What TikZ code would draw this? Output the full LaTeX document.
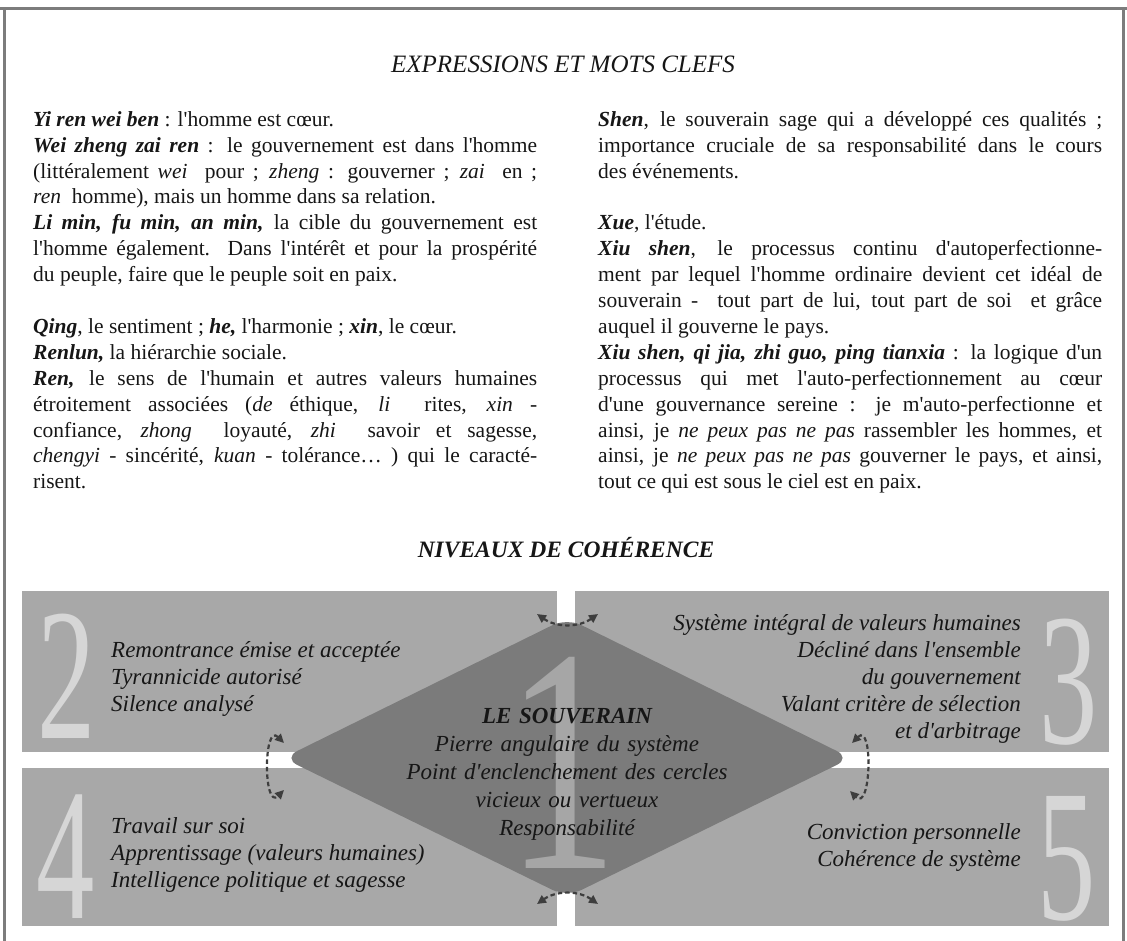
\documentclass[tikz,border=0pt]{standalone}
\usepackage{fontspec}
\setmainfont{Liberation Serif}[Ligatures=TeXOff]
\usepackage{graphicx}
\usetikzlibrary{arrows.meta}

\definecolor{ink}{HTML}{161616}
\definecolor{framegray}{HTML}{7C7C7C}
\definecolor{panelgray}{HTML}{A8A8A8}
\definecolor{diamondgray}{HTML}{7B7B7B}
\definecolor{numgray}{HTML}{D6D6D6}
\definecolor{onegray}{HTML}{A6A6A6}
\definecolor{arrowgray}{HTML}{3E3E3E}

\newcommand\kw[1]{\textbf{\textit{#1}}}
\newcommand\justset{\tolerance=9999 \hyphenpenalty=10000 \relax}

\begin{document}
\begin{tikzpicture}[x=1pt,y=-1pt,
  frameline/.style={draw=framegray, line width=3pt},
  headline/.style={anchor=base, inner sep=0pt, text=ink,
    font=\fontsize{25}{30}\selectfont\itshape},
  bodytext/.style={anchor=north west, inner sep=0pt, text width=504pt,
    align=justify, text=ink, font=\fontsize{21.5}{25.9}\selectfont},
  paneltext/.style={inner sep=0pt, text width=380pt, text=ink,
    font=\fontsize{23}{27}\selectfont\itshape},
  bignum/.style={anchor=base, inner sep=0pt, text=numgray,
    font=\fontsize{188}{188}\selectfont},
  cyc/.style={draw=arrowgray, line width=2.2pt, dash pattern=on 4.5pt off 3pt,
    {Triangle[length=9pt,width=8.5pt]}-{Triangle[length=9pt,width=8.5pt]}}
]
\useasboundingbox (0,0) rectangle (1127,941);

% outer frame
\draw[frameline] (4,941) -- (4,9) -- (1123,9) -- (1123,941);
\draw[frameline] (0,9) -- (1127,9);

% headings
\node[headline] (head1) at (563,73) {EXPRESSIONS ET MOTS CLEFS};
\node[headline, font=\fontsize{23.5}{28}\selectfont\bfseries\itshape] (head2) at (566,557) {NIVEAUX DE COHÉRENCE};

% glossary, left column
\node[bodytext] (colL) at (33,107.9) {\justset\strut\kw{Yi ren wei ben} : l'homme est cœur.\par
\kw{Wei zheng zai ren} : le gouvernement est dans l'homme\linebreak
(littéralement \textit{wei}~ pour ; \textit{zheng} : gouverner ; \textit{zai}~ en ;\linebreak
\textit{ren}~ homme), mais un homme dans sa relation.\par
\kw{Li min, fu min, an min,} la cible du gouvernement est\linebreak
l'homme également. Dans l'intérêt et pour la prospérité\linebreak
du peuple, faire que le peuple soit en paix.\par
\vskip\baselineskip
\kw{Qing}, le sentiment ; \kw{he,} l'harmonie ; \kw{xin}, le cœur.\par
\kw{Renlun,} la hiérarchie sociale.\par
\kw{Ren,} le sens de l'humain et autres valeurs humaines\linebreak
étroitement associées (\textit{de} éthique, \textit{li}~ rites, \textit{xin} -\linebreak
confiance, \textit{zhong}~ loyauté, \textit{zhi}~ savoir et sagesse,\linebreak
\textit{chengyi} - sincérité, \textit{kuan} - tolérance… ) qui le caracté-\linebreak
risent.};

% glossary, right column
\node[bodytext] (colR) at (598,107.9) {\justset\strut\kw{Shen}, le souverain sage qui a développé ces qualités ;\linebreak
importance cruciale de sa responsabilité dans le cours\linebreak
des événements.\par
\vskip\baselineskip
\kw{Xue}, l'étude.\par
\kw{Xiu shen}, le processus continu d'autoperfectionne-\linebreak
ment par lequel l'homme ordinaire devient cet idéal de\linebreak
souverain -~ tout part de lui, tout part de soi~ et grâce\linebreak
auquel il gouverne le pays.\par
\kw{Xiu shen, qi jia, zhi guo, ping tianxia} : la logique d'un\linebreak
processus qui met l'auto-perfectionnement au cœur\linebreak
d'une gouvernance sereine : je m'auto-perfectionne et\linebreak
ainsi, je \textit{ne peux pas ne pas} rassembler les hommes, et\linebreak
ainsi, je \textit{ne peux pas ne pas} gouverner le pays, et ainsi,\linebreak
tout ce qui est sous le ciel est en paix.};

% the four level panels
\fill[panelgray] (22,591) rectangle (557,752);
\fill[panelgray] (575,591) rectangle (1109,752);
\fill[panelgray] (22,768) rectangle (557,926);
\fill[panelgray] (575,768) rectangle (1109,926);

% level numbers
\node[bignum] (num2) at (67,738) {\scalebox{0.62}[1]{2}};
\node[bignum] (num3) at (1069,743) {\scalebox{0.62}[1]{3}};
\node[bignum] (num4) at (66,918) {\scalebox{0.62}[1]{4}};
\node[bignum] (num5) at (1067,919) {\scalebox{0.62}[1]{5}};

% panel texts
\node[paneltext, anchor=north west, align=flush left] (lvl2) at (111,638.1)
  {\strut Remontrance émise et acceptée\\ Tyrannicide autorisé\\ Silence analysé};
\node[paneltext, anchor=north east, align=flush right] (lvl3) at (1021,611.1)
  {\strut Système intégral de valeurs humaines\\ Décliné dans l'ensemble\\ du gouvernement\\ Valant critère de sélection\\ et d'arbitrage};
\node[paneltext, anchor=north west, align=flush left] (lvl4) at (111,814.1)
  {\strut Travail sur soi\\ Apprentissage (valeurs humaines)\\ Intelligence politique et sagesse};
\node[paneltext, anchor=north east, align=flush right] (lvl5) at (1021,820.1)
  {\strut Conviction personnelle\\ Cohérence de système};

% central diamond: the sovereign
\fill[diamondgray, rounded corners=16pt] (567,618) -- (851,758) -- (567,897) -- (283,758) -- cycle;
\node[bignum, text=onegray, font=\fontsize{320}{320}\selectfont] (num1) at (562,868)
  {\scalebox{0.7}[1]{1}};
\node[paneltext, anchor=north, align=center, font=\fontsize{23}{28}\selectfont\itshape] (sov) at (567,703.4)
  {\strut\textbf{LE SOUVERAIN}\\ Pierre angulaire du système\\ Point d'enclenchement des cercles\\ vicieux ou vertueux\\ Responsabilité};

% cycle arrows between the levels
\coordinate (aT1) at (537,614);
\coordinate (aT2) at (598,614);
\coordinate (aB1) at (537,904);
\coordinate (aB2) at (598,904);
\coordinate (aL1) at (284,743);
\coordinate (aL2) at (284,790);
\coordinate (aR1) at (852,743);
\coordinate (aR2) at (850,791);
\draw[cyc] (aT1) to[out=-35,in=-145] (aT2);
\draw[cyc] (aB1) to[out=35,in=145] (aB2);
\draw[cyc] (aL1) to[out=135,in=-135,looseness=1.6] (aL2);
\draw[cyc] (aR1) to[out=45,in=-45,looseness=1.6] (aR2);
\end{tikzpicture}
\end{document}
